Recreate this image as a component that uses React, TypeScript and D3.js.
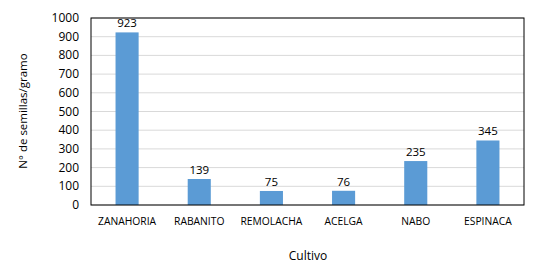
import React from "react";
import * as d3 from "d3";

const categories = ["ZANAHORIA", "RABANITO", "REMOLACHA", "ACELGA", "NABO", "ESPINACA"];
const values = [923, 139, 75, 76, 235, 345];
const yTicks = [0, 100, 200, 300, 400, 500, 600, 700, 800, 900, 1000];

export default function App() {
  const W = 548, H = 266;
  const left = 91, right = 524, top = 18, bottom = 205;
  const x = d3.scaleBand<string>().domain(categories).range([left, right]).paddingInner(0.68).paddingOuter(0.34);
  const y = d3.scaleLinear().domain([0, 1000]).range([bottom, top]);
  const font = "'Open Sans', 'Noto Sans', sans-serif";
  return (
    <svg width={W} height={H} style={{ position: "absolute", left: 0, top: 0 }}>
      <rect x={0} y={0} width={W} height={H} fill="#fff" />
      {yTicks.map((t) => (
        <line key={t} x1={left} x2={right} y1={y(t)} y2={y(t)} stroke="#d9d9d9" strokeWidth={1} />
      ))}
      {categories.map((c, i) => (
        <rect key={c} x={x(c)!} y={y(values[i])} width={x.bandwidth()} height={bottom - y(values[i])} fill="#5b9bd5" />
      ))}
      <rect x={left} y={top} width={right - left} height={bottom - top} fill="none" stroke="#000" strokeWidth={1} />
      {yTicks.map((t) => (
        <text key={t} x={79} y={y(t) + 4} textAnchor="end" fontFamily={font} fontSize={12} fill="#000">{t}</text>
      ))}
      {categories.map((c, i) => (
        <text key={c} x={x(c)! + x.bandwidth() / 2} y={y(values[i]) - 5} textAnchor="middle" fontFamily={font} fontSize={11.5} fill="#000">{values[i]}</text>
      ))}
      {categories.map((c) => (
        <text key={c} x={x(c)! + x.bandwidth() / 2} y={225} textAnchor="middle" fontFamily={font} fontSize={10.3} fill="#000">{c}</text>
      ))}
      <text x={308} y={260} textAnchor="middle" fontFamily={font} fontSize={12} fill="#000">Cultivo</text>
      <text transform={`translate(27,111) rotate(-90)`} textAnchor="middle" fontFamily={font} fontSize={11.5} fill="#000">N° de semillas/gramo</text>
    </svg>
  );
}
